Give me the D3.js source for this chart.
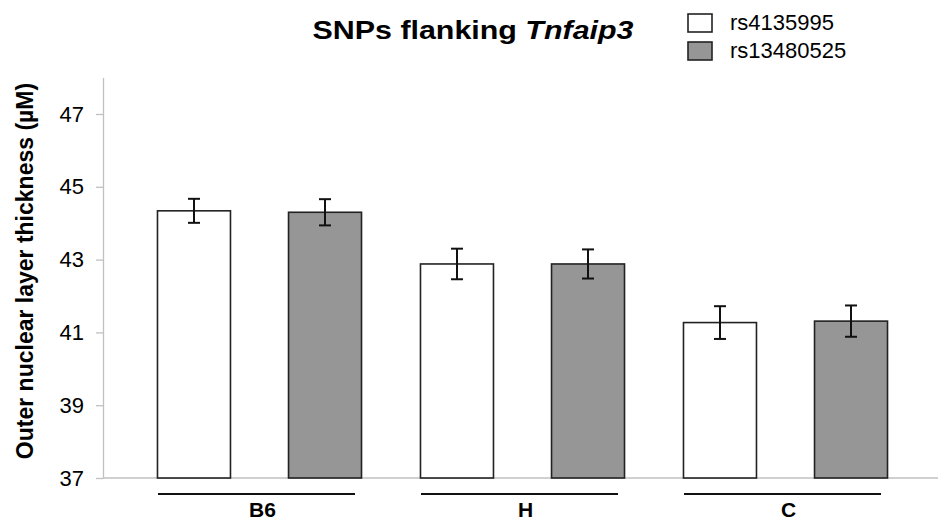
<!DOCTYPE html>
<html>
<head>
<meta charset="utf-8">
<script src="https://cdn.jsdelivr.net/npm/d3@7"></script>
<style>
  body { margin: 0; background: #fff; }
  text { font-family: "Liberation Sans", Arial, sans-serif; fill: #000; }
</style>
</head>
<body>
<div id="g1"></div>
<script>
// data
var groups = ["B6", "H", "C"];
var series = ["rs4135995", "rs13480525"];
var mean_rs4135995 = [44.34, 42.88, 41.27];
var mean_rs13480525 = [44.30, 42.88, 41.31];
var err_rs4135995 = [0.33, 0.42, 0.45];
var err_rs13480525 = [0.36, 0.40, 0.43];
var yTicks = [37, 39, 41, 43, 45, 47];

var colors = { "rs4135995": "#ffffff", "rs13480525": "#969696" };

var w = 938, h = 521;
var svg = d3.select("#g1").append("svg").attr("width", w).attr("height", h);

var rows = [];
groups.forEach(function(g, i) {
  rows.push({ group: g, key: series[0], v: mean_rs4135995[i], e: err_rs4135995[i] });
  rows.push({ group: g, key: series[1], v: mean_rs13480525[i], e: err_rs13480525[i] });
});

var y = d3.scaleLinear().domain([37, 48]).range([478, 77.6]);
var x0 = d3.scaleBand().domain(groups).range([128, 917]);
var x1 = d3.scaleBand().domain(series).range([0, x0.bandwidth()])
           .paddingInner(0.443).paddingOuter(0.225);

var axisX = 103;

// y axis
var yAxis = d3.axisLeft(y).tickValues(yTicks).tickSize(7).tickSizeOuter(0).tickPadding(12);
var gy = svg.append("g").attr("transform", "translate(" + axisX + ",0)").call(yAxis);
gy.select(".domain").attr("stroke", "#c0c0c0").attr("stroke-width", 1.3);
gy.selectAll(".tick line").attr("stroke", "#c0c0c0").attr("stroke-width", 1.3);
gy.selectAll(".tick text").style("font-size", "22px").attr("fill", "#000");

// bottom axis line
svg.append("line").attr("x1", axisX).attr("x2", w)
   .attr("y1", y(37)).attr("y2", y(37))
   .attr("stroke", "#c0c0c0").attr("stroke-width", 1.3);

// bars
svg.selectAll("rect.bar").data(rows).enter().append("rect")
   .attr("class", "bar")
   .attr("x", function(d) { return x0(d.group) + x1(d.key); })
   .attr("y", function(d) { return y(d.v); })
   .attr("width", x1.bandwidth())
   .attr("height", function(d) { return y(37) - y(d.v); })
   .attr("fill", function(d) { return colors[d.key]; })
   .attr("stroke", "#222")
   .attr("stroke-width", 1.6);

// error bars
var eb = svg.selectAll("g.err").data(rows).enter().append("g").attr("class", "err")
   .attr("transform", function(d) { return "translate(" + (x0(d.group) + x1(d.key) + x1.bandwidth() / 2) + ",0)"; });
eb.append("line").attr("x1", 0).attr("x2", 0)
  .attr("y1", function(d) { return y(d.v + d.e); })
  .attr("y2", function(d) { return y(d.v - d.e); })
  .attr("stroke", "#111").attr("stroke-width", 2);
eb.append("line").attr("x1", -6).attr("x2", 6)
  .attr("y1", function(d) { return y(d.v + d.e); })
  .attr("y2", function(d) { return y(d.v + d.e); })
  .attr("stroke", "#111").attr("stroke-width", 2);
eb.append("line").attr("x1", -6).attr("x2", 6)
  .attr("y1", function(d) { return y(d.v - d.e); })
  .attr("y2", function(d) { return y(d.v - d.e); })
  .attr("stroke", "#111").attr("stroke-width", 2);

// group lines + labels
svg.selectAll("line.grp").data(groups).enter().append("line")
   .attr("class", "grp")
   .attr("x1", function(d) { return x0(d) + 30; })
   .attr("x2", function(d) { return x0(d) + 227; })
   .attr("y1", 494).attr("y2", 494)
   .attr("stroke", "#111").attr("stroke-width", 2);
svg.selectAll("text.grp").data(groups).enter().append("text")
   .attr("class", "grp")
   .attr("x", function(d) { return x0(d) + x0.bandwidth() / 2 + 3; })
   .attr("y", 517)
   .attr("text-anchor", "middle")
   .style("font-size", "21px").style("font-weight", "bold")
   .text(function(d) { return d; });

// y label
svg.append("text")
   .attr("transform", "translate(33," + 271 + ") rotate(-90)")
   .attr("text-anchor", "middle")
   .style("font-size", "23px").style("font-weight", "bold")
   .text("Outer nuclear layer thickness (µM)");

// title (reference glyphs are a bit wider than Arial, so stretch it)
var title = svg.append("text").attr("transform", "translate(473,39) scale(1.17,1)")
   .attr("text-anchor", "middle")
   .style("font-size", "26px").style("font-weight", "bold");
title.append("tspan").text("SNPs flanking ");
title.append("tspan").style("font-style", "italic").text("Tnfaip3");

// legend
var lg = svg.selectAll("g.lg").data(series).enter().append("g").attr("class", "lg")
   .attr("transform", function(d, i) { return "translate(688," + (14 + i * 28) + ")"; });
lg.append("rect").attr("width", 24).attr("height", 18)
  .attr("fill", function(d) { return colors[d]; })
  .attr("stroke", "#222").attr("stroke-width", 1.6);
lg.append("text").attr("x", 42).attr("y", 16)
  .style("font-size", "22px")
  .text(function(d) { return d; });
</script>
</body>
</html>
